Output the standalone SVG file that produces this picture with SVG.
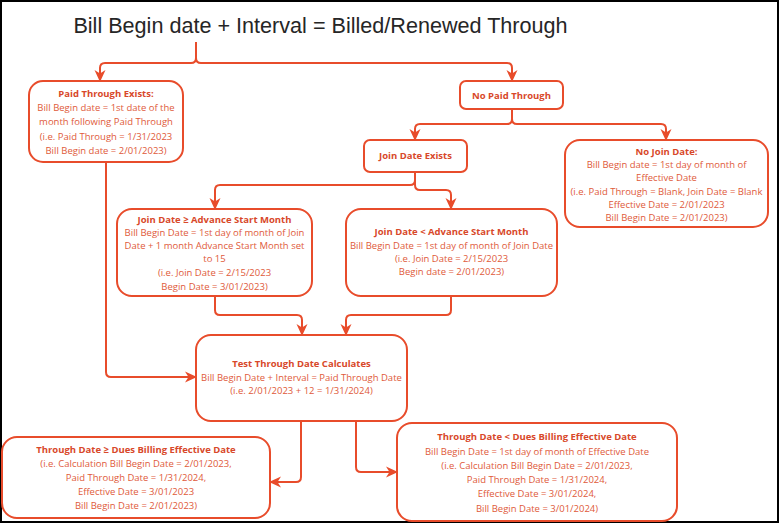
<svg xmlns="http://www.w3.org/2000/svg" width="780" height="524" viewBox="0 0 780 524">
<defs>
<marker id="arr" markerUnits="userSpaceOnUse" markerWidth="12" markerHeight="12" viewBox="0 0 12 12" refX="11" refY="6" orient="auto">
<path d="M0,0.5 L12,6 L0,11.5 L3.5,6 Z" fill="#E84C2B"/>
</marker>
<style>
.node rect{fill:#ffffff;stroke:#E84C2B;stroke-width:2}
.node text{font-family:"Open Sans","DejaVu Sans",sans-serif;font-size:9.5px;fill:#E05A3A;text-anchor:middle}
.node text.b{font-weight:bold;fill:#D8482A}
#connectors path{fill:none;stroke:#E84C2B;stroke-width:2;marker-end:url(#arr)}
.title{font-family:"Liberation Sans",Arial,sans-serif;font-size:21.6px;fill:#262626;text-anchor:middle}
</style>
</defs>
<rect x="0" y="0" width="780" height="524" fill="#ffffff"/>
<rect x="1" y="1" width="777" height="521" fill="none" stroke="#000000" stroke-width="2"/>
<text class="title" x="320.5" y="33">Bill Begin date + Interval = Billed/Renewed Through</text>

<g id="connectors">
<path d="M196,42 V58 Q196,63 191,63 H105 Q100,63 100,68 V81"/>
<path d="M196,42 V58 Q196,63 201,63 H507 Q512,63 512,68 V81"/>
<path d="M512,109 V119 Q512,124 507,124 H420 Q415,124 415,129 V140"/>
<path d="M512,109 V119 Q512,124 517,124 H661 Q666,124 666,129 V140"/>
<path d="M415,172 V180 Q415,185 410,185 H220 Q215,185 215,190 V209"/>
<path d="M415,172 V185 Q415,190 420,190 H446 Q451,190 451,195 V209"/>
<path d="M215,296 V310 Q215,315 220,315 H297 Q302,315 302,320 V335"/>
<path d="M451,296 V310 Q451,315 446,315 H351 Q346,315 346,320 V335"/>
<path d="M106,162 V372 Q106,377 111,377 H196"/>
<path d="M301,421 V477 Q301,482 296,482 H270"/>
<path d="M356,421 V467 Q356,472 361,472 H397"/>
</g>

<g id="paid-through-exists" class="node">
<rect x="29" y="81" width="154" height="81" rx="14"/>
<text class="b" x="106" y="96.5">Paid Through Exists:</text>
<text x="106" y="110.5">Bill Begin date = 1st date of the</text>
<text x="106" y="125">month following Paid Through</text>
<text x="106" y="139.5">(i.e. Paid Through = 1/31/2023</text>
<text x="106" y="153.5">Bill Begin date = 2/01/2023)</text>
</g>

<g id="no-paid-through" class="node">
<rect x="460" y="81" width="103" height="28" rx="6"/>
<text class="b" x="511.5" y="98.5">No Paid Through</text>
</g>

<g id="join-date-exists" class="node">
<rect x="364" y="140" width="103" height="32" rx="6"/>
<text class="b" x="415.5" y="158.5">Join Date Exists</text>
</g>

<g id="no-join-date" class="node">
<rect x="565" y="140" width="203" height="87" rx="15"/>
<text class="b" x="666.5" y="154.5">No Join Date:</text>
<text x="666.5" y="167.5">Bill Begin date = 1st day of month of</text>
<text x="666.5" y="180.5">Effective Date</text>
<text x="666.5" y="194.5">(i.e. Paid Through = Blank, Join Date = Blank</text>
<text x="666.5" y="207.5">Effective Date = 2/01/2023</text>
<text x="666.5" y="220.5">Bill Begin Date = 2/01/2023)</text>
</g>

<g id="join-ge-advance" class="node">
<rect x="117" y="209" width="195" height="87" rx="15"/>
<text class="b" x="214.5" y="222.5">Join Date ≥ Advance Start Month</text>
<text x="214.5" y="236">Bill Begin Date = 1st day of month of Join</text>
<text x="214.5" y="249">Date + 1 month Advance Start Month set</text>
<text x="214.5" y="262">to 15</text>
<text x="214.5" y="275.5">(i.e. Join Date = 2/15/2023</text>
<text x="214.5" y="289.5">Begin Date = 3/01/2023)</text>
</g>

<g id="join-lt-advance" class="node">
<rect x="346" y="209" width="211" height="87" rx="15"/>
<text class="b" x="451.5" y="235">Join Date &lt; Advance Start Month</text>
<text x="451.5" y="249">Bill Begin Date = 1st day of month of Join Date</text>
<text x="451.5" y="262">(i.e. Join Date = 2/15/2023</text>
<text x="451.5" y="275">Begin date = 2/01/2023)</text>
</g>

<g id="test-through-date" class="node">
<rect x="196" y="335" width="211" height="86" rx="15"/>
<text class="b" x="301.5" y="367">Test Through Date Calculates</text>
<text x="301.5" y="381">Bill Begin Date + Interval = Paid Through Date</text>
<text x="301.5" y="394">(i.e. 2/01/2023 + 12 = 1/31/2024)</text>
</g>

<g id="through-ge-effective" class="node">
<rect x="2" y="437" width="268" height="81" rx="15"/>
<text class="b" x="136" y="453">Through Date ≥ Dues Billing Effective Date</text>
<text x="136" y="467">(i.e. Calculation Bill Begin Date = 2/01/2023,</text>
<text x="136" y="481">Paid Through Date = 1/31/2024,</text>
<text x="136" y="494.5">Effective Date = 3/01/2023</text>
<text x="136" y="509">Bill Begin Date = 2/01/2023)</text>
</g>

<g id="through-lt-effective" class="node">
<rect x="397" y="423" width="280" height="98" rx="15"/>
<text class="b" x="537" y="440">Through Date &lt; Dues Billing Effective Date</text>
<text x="537" y="454.5">Bill Begin Date = 1st day of month of Effective Date</text>
<text x="537" y="469">(i.e. Calculation Bill Begin Date = 2/01/2023,</text>
<text x="537" y="483">Paid Through Date = 1/31/2024,</text>
<text x="537" y="497">Effective Date = 3/01/2024,</text>
<text x="537" y="512">Bill Begin Date = 3/01/2024)</text>
</g>
</svg>
